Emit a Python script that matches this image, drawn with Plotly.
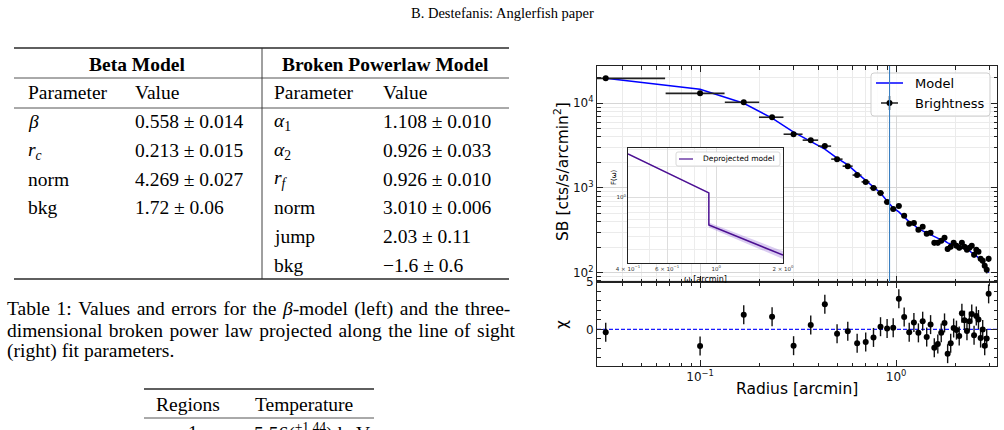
import plotly.graph_objects as go

W, H = 1004, 430


def px(x):
    return x / W


def py(y):
    return 1 - y / H


# ---------------- data ----------------
radius = [0.033, 0.100, 0.167, 0.233, 0.300, 0.367, 0.433, 0.500, 0.567, 0.633,
          0.700, 0.767, 0.833, 0.900, 0.967, 1.033, 1.100, 1.167, 1.233, 1.300,
          1.367, 1.433, 1.500, 1.567, 1.633, 1.700, 1.767, 1.833, 1.900, 1.967,
          2.033, 2.100, 2.167, 2.233, 2.300, 2.367, 2.433, 2.500, 2.567, 2.633,
          2.700, 2.767, 2.833, 2.900, 2.967]
radius_err = [0.0333, 0.0333, 0.0333, 0.0333, 0.0333, 0.0333, 0.0333, 0.0333, 0.0333, 0.0333,
              0.0333, 0.0333, 0.0333, 0.0333, 0.0333, 0.0333, 0.0333, 0.0333, 0.0333, 0.0333,
              0.0333, 0.0333, 0.0333, 0.0333, 0.0333, 0.0333, 0.0333, 0.0333, 0.0333, 0.0333,
              0.0333, 0.0333, 0.0333, 0.0333, 0.0333, 0.0333, 0.0333, 0.0333, 0.0333, 0.0333,
              0.0333, 0.0333, 0.0333, 0.0333, 0.0333]
sb = [19700, 13100, 10300, 6840, 4310, 3670, 3120, 2190, 1810, 1420,
      1180, 1000, 873, 684, 566, 614, 469, 377, 387, 321,
      348, 288, 296, 225, 225, 238, 258, 191, 202, 225,
      208, 197, 225, 202, 187, 197, 208, 163, 187, 177,
      146, 138, 121, 108, 146]
sb_err = [400, 850, 300, 180, 140, 110, 90, 60, 50, 45,
          40, 35, 30, 28, 26, 28, 24, 20, 20, 18,
          18, 16, 16, 16, 15, 15, 15, 14, 14, 14,
          13, 13, 13, 13, 12, 12, 12, 12, 12, 11,
          11, 11, 10, 10, 12]
sb_model = [19700, 14600, 10000, 6670, 4560, 3570, 2880, 2250, 1870, 1500,
            1240, 1030, 873, 703, 582, 522, 456, 398, 367, 330,
            312, 296, 280, 265, 251, 244, 238, 225, 219, 213,
            208, 202, 197, 191, 187, 182, 172, 167, 158, 150,
            142, 135, 124, 114, 100]
chi = [-0.29, -1.75, 1.56, 1.35, -1.71, 0.47, 2.65, -0.44, -0.18, -1.45,
       -1.31, -0.84, 0.29, 0.11, 0.18, 3.24, 1.31, -0.29, 0.73, -0.36,
       0.87, -0.80, 0.51, -1.93, -1.53, -0.36, 0.69, -2.55, -1.45, 0.15,
       -0.07, -0.69, 1.71, 0.98, -0.15, 0.87, 1.64, -0.62, 1.42, 1.05,
       -0.91, 0.00, -1.71, -0.95, 3.75]
chi_err = [1.0, 1.0, 1.0, 1.0, 1.0, 1.0, 1.0, 1.0, 1.0, 1.0,
           1.0, 1.0, 1.0, 1.0, 1.0, 1.0, 1.0, 1.0, 1.0, 1.0,
           1.0, 1.0, 1.0, 1.0, 1.0, 1.0, 1.0, 1.0, 1.0, 1.0,
           1.0, 1.0, 1.0, 1.0, 1.0, 1.0, 1.0, 1.0, 1.0, 1.0,
           1.0, 1.0, 1.0, 1.0, 1.0]
r_f = 0.926

omega = [0.4, 0.926, 0.926, 2.0]
F_model = [2.69, 1.10, 0.525, 0.262]
F_low = [2.66, 1.08, 0.495, 0.240]
F_high = [2.72, 1.12, 0.555, 0.287]

# tables
beta_params = ["<i>β</i>", "<i>r</i><sub><i>c</i></sub>", "norm", "bkg"]
beta_values = ["0.558 ± 0.014", "0.213 ± 0.015", "4.269 ± 0.027", "1.72 ± 0.06"]
bpl_params = ["<i>α</i><sub>1</sub>", "<i>α</i><sub>2</sub>", "<i>r</i><sub><i>f</i></sub>",
              "norm", "jump", "bkg"]
bpl_values = ["1.108 ± 0.010", "0.926 ± 0.033", "0.926 ± 0.010", "3.010 ± 0.006",
              "2.03 ± 0.11", "−1.6 ± 0.6"]
caption_lines = ["Table 1: Values and errors for the <i>β</i>-model (left) and the three-",
                 "dimensional broken power law projected along the line of sight",
                 "(right) fit parameters."]
caption_justify = [True, True, False]

# tick definitions
x_major = [0.1, 1]
x_major_text = ["10<sup>−1</sup>", "10<sup>0</sup>"]
x_minor = [0.03, 0.04, 0.05, 0.06, 0.07, 0.08, 0.09,
           0.2, 0.3, 0.4, 0.5, 0.6, 0.7, 0.8, 0.9, 2, 3]
y_major = [100, 1000, 10000]
y_major_text = ["10<sup>2</sup>", "10<sup>3</sup>", "10<sup>4</sup>"]
y_minor = [80, 90, 200, 300, 400, 500, 600, 700, 800, 900,
           2000, 3000, 4000, 5000, 6000, 7000, 8000, 9000, 20000]
chi_major = [0, 5]
chi_minor = [-3, -2, -1, 1, 2, 3, 4]
w_major = [0.4, 0.6, 1, 2]
w_major_text = ["4 × 10<sup>−1</sup>", "6 × 10<sup>−1</sup>", "10<sup>0</sup>", "2 × 10<sup>0</sup>"]
w_minor = [0.5, 0.7, 0.8, 0.9]
f_major = [1]
f_minor = [0.3, 0.4, 0.5, 0.6, 0.7, 0.8, 0.9, 2, 3]

fig = go.Figure()

# ---------------- main SB panel ----------------
fig.add_trace(go.Scatter(x=radius, y=sb_model, mode="lines", name="Model",
                         line=dict(color="#0000ff", width=1.5),
                         xaxis="x", yaxis="y", showlegend=False))
fig.add_trace(go.Scatter(x=radius, y=sb, mode="markers", name="Brightness",
                         marker=dict(color="black", size=6),
                         error_x=dict(type="data", array=radius_err, color="#222222",
                                      thickness=1.6, width=0),
                         error_y=dict(type="data", array=sb_err, color="#222222",
                                      thickness=1.6, width=0),
                         xaxis="x", yaxis="y", showlegend=False))

# ---------------- chi panel ----------------
fig.add_trace(go.Scatter(x=radius, y=chi, mode="markers", name="χ",
                         marker=dict(color="black", size=6),
                         error_y=dict(type="data", array=chi_err, color="#111111",
                                      thickness=1.4, width=0),
                         xaxis="x2", yaxis="y2", showlegend=False))

# ---------------- inset ----------------
fig.add_trace(go.Scatter(x=omega, y=F_high, mode="lines", line=dict(width=0, color="rgba(0,0,0,0)"),
                         xaxis="x3", yaxis="y3", showlegend=False, hoverinfo="skip"))
fig.add_trace(go.Scatter(x=omega, y=F_low, mode="lines", line=dict(width=0, color="rgba(0,0,0,0)"),
                         fill="tonexty", fillcolor="rgba(150,110,215,0.35)",
                         xaxis="x3", yaxis="y3", showlegend=False, hoverinfo="skip"))
fig.add_trace(go.Scatter(x=omega, y=F_model, mode="lines", name="Deprojected model",
                         line=dict(color="#4b0f91", width=1.5),
                         xaxis="x3", yaxis="y3", showlegend=False))

spine = "#222222"
tickfont = dict(family="DejaVu Sans", size=12, color="#111111")
common = dict(showline=True, linecolor=spine, linewidth=1, mirror="allticks",
              ticks="inside", ticklen=6, tickwidth=1, tickcolor=spine,
              tickfont=tickfont, zeroline=False, automargin=False)

fig.update_layout(
    width=W, height=H,
    margin=dict(l=0, r=0, t=0, b=0),
    paper_bgcolor="white", plot_bgcolor="white",
    template="none",
    showlegend=False,
    xaxis=dict(type="log", range=[-1.526, 0.515], domain=[px(597), px(997)], anchor="y",
               tickmode="array", tickvals=x_major, showticklabels=False,
               showgrid=True, gridcolor="#d6d6d6", gridwidth=1,
               minor=dict(tickmode="array", tickvals=x_minor, ticks="inside", ticklen=3.5,
                          tickcolor=spine, showgrid=True, gridcolor="#ebebeb", gridwidth=1),
               **common),
    yaxis=dict(type="log", range=[1.89, 4.44], domain=[py(282), py(66)], anchor="x",
               tickmode="array", tickvals=y_major, ticktext=y_major_text,
               showgrid=True, gridcolor="#d6d6d6", gridwidth=1,
               minor=dict(tickmode="array", tickvals=y_minor, ticks="inside", ticklen=3.5,
                          tickcolor=spine, showgrid=True, gridcolor="#ebebeb", gridwidth=1),
               **common),
    xaxis2=dict(type="log", range=[-1.526, 0.515], domain=[px(597), px(997)], anchor="y2",
                tickmode="array", tickvals=x_major, ticktext=x_major_text,
                showgrid=False,
                minor=dict(tickmode="array", tickvals=x_minor, ticks="inside", ticklen=3.5,
                           tickcolor=spine, showgrid=False),
                **common),
    yaxis2=dict(range=[-3.85, 5.0], domain=[py(366), py(282)], anchor="x2",
                tickmode="array", tickvals=chi_major, ticktext=["0", "5"],
                showgrid=False,
                minor=dict(tickmode="array", tickvals=chi_minor, ticks="inside", ticklen=3.5,
                           tickcolor=spine, showgrid=False),
                **common),
    xaxis3=dict(type="log", range=[-0.398, 0.301], domain=[px(628), px(783)], anchor="y3",
                tickmode="array", tickvals=w_major, ticktext=w_major_text,
                tickfont=dict(family="DejaVu Sans", size=5.5, color="#333"),
                showline=True, linecolor=spine, linewidth=1, mirror=True, ticks="",
                showgrid=True, gridcolor="#dddddd", zeroline=False, automargin=False,
                minor=dict(tickmode="array", tickvals=w_minor, showgrid=True, gridcolor="#ececec")),
    yaxis3=dict(type="log", range=[-0.66, 0.49], domain=[py(263), py(148)], anchor="x3",
                tickmode="array", tickvals=f_major, ticktext=["10<sup>0</sup>"],
                tickfont=dict(family="DejaVu Sans", size=5.5, color="#333"),
                showline=True, linecolor=spine, linewidth=1, mirror=True, ticks="",
                showgrid=True, gridcolor="#dddddd", zeroline=False, automargin=False,
                minor=dict(tickmode="array", tickvals=f_minor, showgrid=True, gridcolor="#ececec")),
)

shapes = []

# zero line in chi panel
shapes.append(dict(type="line", xref="x2 domain", yref="y2", x0=0, x1=1, y0=0, y1=0,
                   line=dict(color="#1a1aff", width=1.2, dash="4px,2px"), layer="below"))


def rounded_rect(x0, y0, x1, y1, r=3):
    X0, X1 = px(x0), px(x1)
    Yt, Yb = py(y0), py(y1)
    rx, ry = r / W, r / H
    return (f"M {X0+rx},{Yt} L {X1-rx},{Yt} Q {X1},{Yt} {X1},{Yt-ry} "
            f"L {X1},{Yb+ry} Q {X1},{Yb} {X1-rx},{Yb} L {X0+rx},{Yb} "
            f"Q {X0},{Yb} {X0},{Yb+ry} L {X0},{Yt-ry} Q {X0},{Yt} {X0+rx},{Yt} Z")


# main legend (manual)
shapes.append(dict(type="path", xref="paper", yref="paper", path=rounded_rect(871, 73, 990, 116),
                   fillcolor="rgba(255,255,255,0.85)", line=dict(color="#cfcfcf", width=1), layer="above"))
shapes.append(dict(type="line", xref="paper", yref="paper", x0=px(876), x1=px(903), y0=py(83), y1=py(83),
                   line=dict(color="#0000ff", width=1.5), layer="above"))
shapes.append(dict(type="line", xref="paper", yref="paper", x0=px(881), x1=px(898), y0=py(103), y1=py(103),
                   line=dict(color="#222", width=1.5), layer="above"))
shapes.append(dict(type="line", xref="paper", yref="paper", x0=px(889.5), x1=px(889.5), y0=py(96), y1=py(110),
                   line=dict(color="#222", width=1.5), layer="above"))
shapes.append(dict(type="circle", xref="paper", yref="paper", x0=px(886.5), x1=px(892.5), y0=py(100), y1=py(106),
                   fillcolor="black", line=dict(color="black", width=0), layer="above"))

# vertical line at r_f (upper panel)
shapes.append(dict(type="line", xref="x", yref="y domain", x0=r_f, x1=r_f, y0=0, y1=1,
                   line=dict(color="#3a7fc0", width=1.1), layer="above"))

# inset legend
shapes.append(dict(type="path", xref="paper", yref="paper", path=rounded_rect(676, 152, 780, 166, r=2),
                   fillcolor="rgba(255,255,255,0.9)", line=dict(color="#cfcfcf", width=0.8), layer="above"))
shapes.append(dict(type="line", xref="paper", yref="paper", x0=px(679), x1=px(693), y0=py(159), y1=py(159),
                   line=dict(color="#4b0f91", width=1.2), layer="above"))

# ---- page tables: rules ----
rule = "#2a2a2a"
t_left, t_right = 14, 509
for yy, wdt in [(48, 1.4), (78, 0.8), (108, 0.8), (279, 1.4)]:
    shapes.append(dict(type="line", xref="paper", yref="paper", x0=px(t_left), x1=px(t_right),
                       y0=py(yy), y1=py(yy), line=dict(color=rule, width=wdt), layer="above"))
shapes.append(dict(type="line", xref="paper", yref="paper", x0=px(262), x1=px(262),
                   y0=py(48), y1=py(279), line=dict(color=rule, width=0.9), layer="above"))
for yy, wdt in [(389, 1.4), (418, 0.8)]:
    shapes.append(dict(type="line", xref="paper", yref="paper", x0=px(144), x1=px(374),
                       y0=py(yy), y1=py(yy), line=dict(color=rule, width=wdt), layer="above"))

fig.update_layout(shapes=shapes)

ann = []


def txt(x, y, s, size, family="Liberation Serif", xanchor="left", yanchor="middle", angle=0,
        color="black"):
    ann.append(dict(x=px(x), y=py(y), xref="paper", yref="paper", text=s, showarrow=False,
                    xanchor=xanchor, yanchor=yanchor, textangle=angle,
                    font=dict(size=size, family=family, color=color), borderpad=0))


serif = "Liberation Serif"
sans = "DejaVu Sans"
TS = 19.5

# running head
txt(502, 13, "B. Destefanis: Anglerfish paper", 14.5, serif, xanchor="center")

# table 1
txt(137, 64, "<b>Beta Model</b>", TS, serif, xanchor="center")
txt(385, 64, "<b>Broken Powerlaw Model</b>", TS, serif, xanchor="center")
txt(27, 93, "Parameter", TS)
txt(134, 93, "Value", TS)
txt(273, 93, "Parameter", TS)
txt(382, 93, "Value", TS)
row_y = [122, 150.6, 179.2, 207.8, 236.4, 265]
for i, (p, v) in enumerate(zip(beta_params, beta_values)):
    txt(27, row_y[i], p, TS)
    txt(134, row_y[i], v, TS)
for i, (p, v) in enumerate(zip(bpl_params, bpl_values)):
    txt(273, row_y[i], p, TS)
    txt(382, row_y[i], v, TS)

# caption (justified lines get a little extra word spacing)
for i, (line, just) in enumerate(zip(caption_lines, caption_justify)):
    s = line.replace(" ", " \u200a") if just else line
    txt(6, 309 + 21 * i, s, TS)

# table 2 (partially visible)
txt(188, 404, "Regions", TS, xanchor="center")
txt(304, 404, "Temperature", TS, xanchor="center")
txt(193, 432, "1", TS, xanchor="center")
txt(253, 432, "5.56(<sup>+1.44</sup>) keV", TS)

# chart axis titles
txt(561, 172, "SB [cts/s/arcmin<sup>2</sup>]", 15.5, sans, xanchor="center", angle=-90)
txt(562, 325, "χ", 15.5, sans, xanchor="center", angle=-90)
txt(797, 389, "Radius [arcmin]", 15.5, sans, xanchor="center")

# legend texts
txt(914, 83, "Model", 13, sans)
txt(914, 103, "Brightness", 13, sans)

# inset texts
txt(702, 159, "Deprojected model", 7.5, sans)
txt(614, 177, "F(ω)", 7, sans, xanchor="center", angle=-90)
txt(705, 279, "ω [arcmin]", 8, sans, xanchor="center")

fig.update_layout(annotations=ann)

fig.write_html("out.html")
